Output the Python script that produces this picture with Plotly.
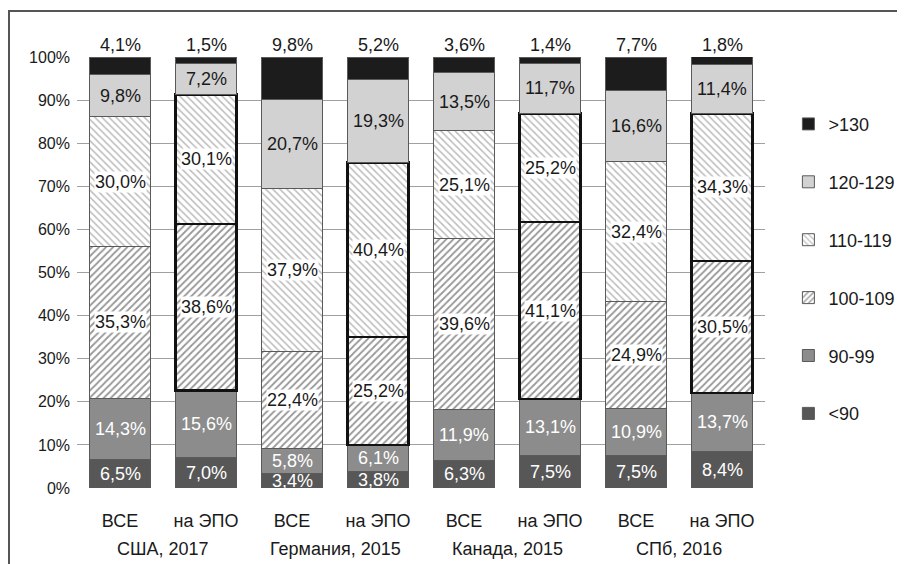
import plotly.graph_objects as go

# ---- data ----
groups = ["США, 2017", "Германия, 2015", "Канада, 2015", "СПб, 2016"]
subcats = ["ВСЕ", "на ЭПО", "ВСЕ", "на ЭПО", "ВСЕ", "на ЭПО", "ВСЕ", "на ЭПО"]
series_names = ["<90", "90-99", "100-109", "110-119", "120-129", ">130"]
v_lt90 = [6.5, 7.0, 3.4, 3.8, 6.3, 7.5, 7.5, 8.4]
v_90_99 = [14.3, 15.6, 5.8, 6.1, 11.9, 13.1, 10.9, 13.7]
v_100_109 = [35.3, 38.6, 22.4, 25.2, 39.6, 41.1, 24.9, 30.5]
v_110_119 = [30.0, 30.1, 37.9, 40.4, 25.1, 25.2, 32.4, 34.3]
v_120_129 = [9.8, 7.2, 20.7, 19.3, 13.5, 11.7, 16.6, 11.4]
v_gt130 = [4.1, 1.5, 9.8, 5.2, 3.6, 1.4, 7.7, 1.8]
y_ticks = [0, 10, 20, 30, 40, 50, 60, 70, 80, 90, 100]

series_values = [v_lt90, v_90_99, v_100_109, v_110_119, v_120_129, v_gt130]

FONT = "'Liberation Sans', Arial, sans-serif"
x = list(range(len(subcats)))
is_epo = [s == "на ЭПО" for s in subcats]

styles = [
    dict(color="#575757", pattern=None, text="white", bg=None, thick=False),
    dict(color="#8c8c8c", pattern=None, text="white", bg=None, thick=False),
    dict(color="white", pattern=dict(shape="/", fgcolor="#2e2e2e", bgcolor="white", size=5, solidity=0.35), text="#1a1a1a", bg="white", thick=True),
    dict(color="white", pattern=dict(shape="\\", fgcolor="#7a7a7a", bgcolor="white", size=5, solidity=0.3), text="#1a1a1a", bg="white", thick=True),
    dict(color="#d2d2d2", pattern=None, text="#1a1a1a", bg=None, thick=False),
    dict(color="#1c1c1c", pattern=None, text="#1a1a1a", bg=None, thick=False),
]

fig = go.Figure()
for i, (name, vals, st) in enumerate(zip(series_names, series_values, styles)):
    lw = [2.2 if (st["thick"] and e) else 1 for e in is_epo]
    lc = ["#111111" if (st["thick"] and e) else "#5a5a5a" for e in is_epo]
    marker = dict(color=st["color"], line=dict(width=lw, color=lc))
    if st["pattern"]:
        marker["pattern"] = st["pattern"]
    fig.add_trace(go.Bar(
        x=x, y=vals, name=name, marker=marker, width=0.71,
        legendgroup=name, legendrank=100 - i, hoverinfo="skip",
    ))

# segment labels
annotations = []
for j in range(len(x)):
    base = 0.0
    for i, (vals, st) in enumerate(zip(series_values, styles)):
        v = vals[j]
        label = f"{v:.1f}%".replace(".", ",")
        if i == len(series_values) - 1:
            annotations.append(dict(x=x[j], y=100, xref="x", yref="y", text=label,
                                    showarrow=False, yanchor="bottom", yshift=0,
                                    font=dict(family=FONT, size=18, color="#1a1a1a")))
        else:
            a = dict(x=x[j], y=base + v / 2, xref="x", yref="y", text=label,
                     showarrow=False, font=dict(family=FONT, size=18, color=st["text"]))
            if st["bg"]:
                a["bgcolor"] = st["bg"]
                a["borderpad"] = 0
            annotations.append(a)
        base += v

# group labels
for g, name in enumerate(groups):
    annotations.append(dict(x=2 * g + 0.5, y=-0.141, xref="x", yref="paper", text=name,
                            showarrow=False, yanchor="middle",
                            font=dict(family=FONT, size=18, color="#1a1a1a")))

# page body has an 8px offset; figure placed at (8, 8) of the window
W, H = 897, 556
L, R, T, B = 69, 140, 49, 76
pw, ph = W - L - R, H - T - B
def px(xp): return (xp - L) / pw
def py(yp): return (H - B - yp) / ph

shapes = [dict(type="path", xref="paper", yref="paper",
               path=f"M {px(1)} {py(H + 5)} L {px(1)} {py(3)} L {px(W + 5)} {py(3)}",
               line=dict(color="#555555", width=2))]

fig.update_layout(
    width=W, height=H,
    margin=dict(l=L, r=R, t=T, b=B, pad=0, autoexpand=False),
    paper_bgcolor="white", plot_bgcolor="white",
    barmode="stack",
    font=dict(family=FONT, size=17, color="#1a1a1a"),
    xaxis=dict(tickmode="array", tickvals=x, ticktext=subcats, range=[-0.5, len(x) - 0.5],
               showgrid=False, zeroline=False, showline=False, ticks="",
               ticklabelstandoff=20, tickfont=dict(size=18, family=FONT)),
    yaxis=dict(range=[0, 100], tickvals=y_ticks, ticktext=[f"{t}%" for t in y_ticks],
               showgrid=True, gridcolor="#a0a0a0", gridwidth=1, zeroline=False,
               showline=False, ticks="", ticklabelstandoff=6,
               tickfont=dict(size=16, family=FONT)),
    legend=dict(x=1.034, y=0.887, xanchor="left", yanchor="top",
                traceorder="grouped", tracegroupgap=31.5,
                font=dict(size=18, family=FONT), bgcolor="rgba(0,0,0,0)"),
    annotations=annotations,
    shapes=shapes,
)

fig.write_html("out.html")
